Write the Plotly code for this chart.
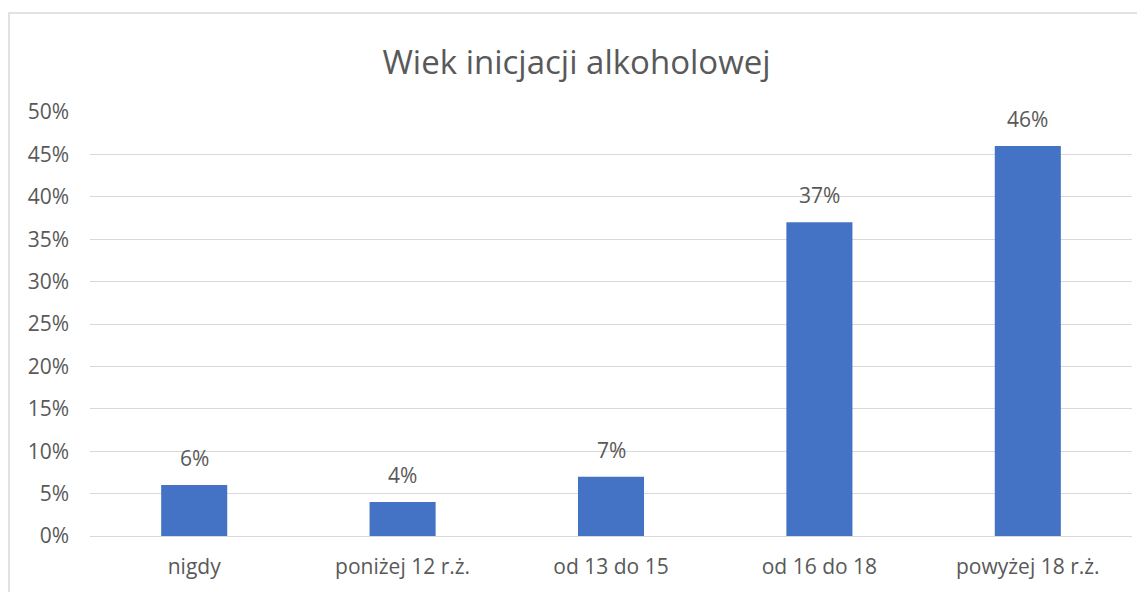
import plotly.graph_objects as go

# dane z wykresu
kategorie = ["nigdy", "poniżej 12 r.ż.", "od 13 do 15", "od 16 do 18", "powyżej 18 r.ż."]
wartosci = [0.06, 0.04, 0.07, 0.37, 0.46]
etykiety = ["6%", "4%", "7%", "37%", "46%"]

kolor_tekstu = "#595959"
czcionka = "Open Sans"

fig = go.Figure()
fig.add_trace(go.Bar(
    x=kategorie,
    y=wartosci,
    marker=dict(color="#4472C4", line=dict(width=0)),
    hoverinfo="x+y",
))

# etykiety danych nad slupkami
for k, w, e in zip(kategorie, wartosci, etykiety):
    fig.add_annotation(x=k, y=w, text=e, showarrow=False,
                       yanchor="bottom", yshift=11,
                       font=dict(size=21, color=kolor_tekstu, family=czcionka))

# strona html ma margines 8px, wiec figura jest o 8px mniejsza
fig.update_layout(
    width=1137, height=584,
    margin=dict(l=82, r=13, t=104, b=48),
    paper_bgcolor="white",
    plot_bgcolor="white",
    bargap=0.683,
    showlegend=False,
    title=dict(text="Wiek inicjacji alkoholowej", x=0.5, xanchor="center",
               y=1 - 54 / 584, yanchor="middle",
               font=dict(size=33, color=kolor_tekstu, family=czcionka)),
    font=dict(family=czcionka, color=kolor_tekstu),
)

fig.update_yaxes(
    range=[0, 0.5], dtick=0.05, tickformat=".0%",
    showgrid=True, gridcolor="#D9D9D9", gridwidth=1.3,
    zeroline=False, showline=False, ticks="",
    ticklabelstandoff=20,
    tickfont=dict(size=21, color=kolor_tekstu, family=czcionka),
)
fig.update_xaxes(
    showline=True, linecolor="#D9D9D9", linewidth=1.3,
    ticks="", ticklabelstandoff=12,
    tickfont=dict(size=21, color=kolor_tekstu, family=czcionka),
)

# ramka wykresu
fig.add_shape(type="rect", xref="paper", yref="paper",
              x0=-0.0777, x1=1.03, y0=-0.3, y1=1.2335,
              line=dict(color="#D9D9D9", width=1.5), layer="below")

fig.write_html("out.html")
